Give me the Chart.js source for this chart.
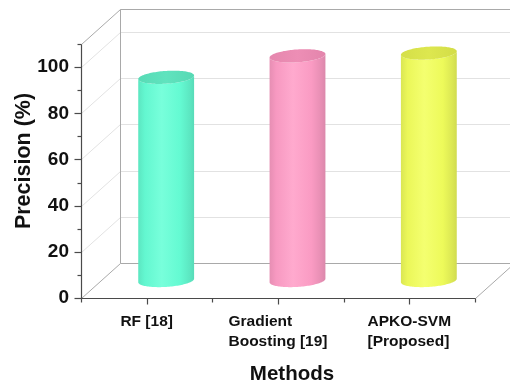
<!DOCTYPE html>
<html>
<head>
<meta charset="utf-8">
<script src="https://cdn.jsdelivr.net/npm/chart.js@4/dist/chart.umd.min.js"></script>
<style>
  html, body { margin: 0; padding: 0; background: #ffffff; }
  canvas { display: block; }
</style>
</head>
<body>
<canvas id="chart" width="510" height="385"></canvas>
<script>
// Methods compared (multi-line category labels)
const methods = [['RF [18]'], ['Gradient', 'Boosting [19]'], ['APKO-SVM', '[Proposed]']];
// Precision (%) per method
const precision = [88, 97.3, 98.5];
// Labelled ticks on the value axis
const yTickLabels = [0, 20, 40, 60, 80, 100];
const yMax = 110;

// Cylinder colours: side, cap
const sideColors = ['#66FFD6', '#FF9EC7', '#F2FF5C'];
const capColors = ['#5BE2BC', '#EC8BB3', '#DCE64A'];

// Oblique depth of the 3D box (pixels) and cylinder depth radius as a fraction of it
const DEPTH = { x: 39, y: -35 };
const CYL_DEPTH = 0.19;
const FONT = "'Liberation Sans', Arial, sans-serif";

function shade(hex, f) {
  const n = parseInt(hex.slice(1), 16);
  const c = [(n >> 16) & 255, (n >> 8) & 255, n & 255].map(v => {
    const o = f < 1 ? v * f : v + (255 - v) * (f - 1);
    return Math.max(0, Math.min(255, Math.round(o)));
  });
  return `rgb(${c[0]},${c[1]},${c[2]})`;
}

function seg(ctx, x1, y1, x2, y2) {
  ctx.beginPath();
  ctx.moveTo(x1, y1);
  ctx.lineTo(x2, y2);
  ctx.stroke();
}

// Back wall, side wall and floor of the 3D box, drawn behind the cylinders
const boxFrame = {
  id: 'boxFrame',
  beforeDatasetsDraw(chart) {
    const { ctx, scales: { x, y } } = chart;
    const L = Math.round(x.left) + 0.5, R = Math.round(x.right) + 0.5;
    const B = Math.round(y.getPixelForValue(0)) + 0.5;
    const T = Math.round(y.getPixelForValue(yMax)) + 0.5;
    const dx = DEPTH.x, dy = DEPTH.y;
    ctx.save();
    ctx.lineWidth = 1;
    ctx.strokeStyle = '#e2e2e2';
    yTickLabels.forEach(v => {
      if (v === 0) return;
      const py = Math.round(y.getPixelForValue(v)) + 0.5;
      seg(ctx, L, py, L + dx, py + dy);
      seg(ctx, L + dx, py + dy, R + dx + 5, py + dy);
    });
    ctx.strokeStyle = '#a9a9a9';
    seg(ctx, L, T, L + dx, T + dy);
    seg(ctx, L + dx, T + dy, R + dx + 5, T + dy);
    seg(ctx, L + dx, T + dy, L + dx, B + dy);
    seg(ctx, L, B, L + dx, B + dy);
    seg(ctx, L + dx, B + dy, R + dx + 5, B + dy);
    seg(ctx, R, B, R + dx, B + dy);
    ctx.restore();
  },
  afterDatasetsDraw(chart) {
    const { ctx } = chart;
    const meta = chart.getDatasetMeta(0);
    const dx = DEPTH.x, dy = DEPTH.y;
    const a = CYL_DEPTH * dx, b = CYL_DEPTH * dy;
    meta.data.forEach((bar, i) => {
      const cx = bar.x + dx / 2;
      const topY = bar.y + dy / 2;
      const botY = bar.base + dy / 2;
      const r = bar.width / 2;
      const P = (t, cy) => [cx + r * Math.cos(t) + a * Math.sin(t), cy + b * Math.sin(t)];
      const tR = Math.atan2(a, r);
      const tL = tR + Math.PI;
      const steps = 60;
      const rr = Math.sqrt(r * r + a * a);

      // side of the cylinder
      ctx.save();
      ctx.beginPath();
      let p = P(tL, topY);
      ctx.moveTo(p[0], p[1]);
      for (let k = 0; k <= steps; k++) {
        const t = tL + Math.PI * k / steps;
        p = P(t, botY);
        ctx.lineTo(p[0], p[1]);
      }
      for (let k = steps; k >= 0; k--) {
        const t = tL + Math.PI * k / steps;
        p = P(t, topY);
        ctx.lineTo(p[0], p[1]);
      }
      ctx.closePath();
      const g = ctx.createLinearGradient(cx - rr, 0, cx + rr, 0);
      const base = sideColors[i];
      g.addColorStop(0, shade(base, 0.9));
      g.addColorStop(0.12, shade(base, 0.97));
      g.addColorStop(0.42, shade(base, 1.12));
      g.addColorStop(0.75, shade(base, 0.98));
      g.addColorStop(0.93, shade(base, 0.9));
      g.addColorStop(1, shade(base, 0.86));
      ctx.fillStyle = g;
      ctx.fill();

      // top cap
      ctx.beginPath();
      for (let k = 0; k <= 2 * steps; k++) {
        const t = (2 * Math.PI) * k / (2 * steps);
        p = P(t, topY);
        if (k === 0) ctx.moveTo(p[0], p[1]); else ctx.lineTo(p[0], p[1]);
      }
      ctx.closePath();
      const gc = ctx.createLinearGradient(cx - rr, 0, cx + rr, 0);
      gc.addColorStop(0, shade(capColors[i], 0.97));
      gc.addColorStop(0.5, shade(capColors[i], 1.03));
      gc.addColorStop(1, shade(capColors[i], 0.96));
      ctx.fillStyle = gc;
      ctx.fill();
      ctx.restore();
    });
  },
  afterDraw(chart) {
    const { ctx, scales: { x, y } } = chart;
    const L = Math.round(x.left) + 0.5, R = Math.round(x.right) + 0.5;
    const B = Math.round(y.getPixelForValue(0)) + 0.5;
    const T = Math.round(y.getPixelForValue(yMax)) + 0.5;
    ctx.save();
    ctx.strokeStyle = '#4a4a4a';
    ctx.lineWidth = 1.2;
    // front value axis with major/minor ticks
    seg(ctx, L, B, L, T);
    for (let v = 0; v <= yMax; v += 10) {
      const py = Math.round(y.getPixelForValue(v)) + 0.5;
      const len = v % 20 === 0 ? 7 : 4;
      seg(ctx, L - len, py, L, py);
    }
    // front category axis with ticks at centres and boundaries
    seg(ctx, L, B, R, B);
    methods.forEach((m, i) => {
      const px = Math.round(x.getPixelForValue(i)) + 0.5;
      seg(ctx, px, B, px, B + 6);
    });
    for (let i = 0; i <= methods.length; i++) {
      const px = Math.round(x.getPixelForValue(i - 0.5)) + 0.5;
      seg(ctx, px, B, px, B + 4);
    }

    // category labels, lines left-aligned inside a centred block
    ctx.fillStyle = '#111111';
    ctx.font = `bold 15.5px ${FONT}`;
    ctx.textAlign = 'left';
    ctx.textBaseline = 'alphabetic';
    methods.forEach((lines, i) => {
      const px = x.getPixelForValue(i);
      const w = Math.max(...lines.map(s => ctx.measureText(s).width));
      lines.forEach((s, k) => ctx.fillText(s, px - w / 2, B + 27.5 + k * 20));
    });

    // axis titles
    ctx.font = `bold 20.5px ${FONT}`;
    ctx.textAlign = 'center';
    ctx.fillText('Methods', 292, 380);
    ctx.translate(30, 161);
    ctx.rotate(-Math.PI / 2);
    ctx.font = `bold 21.5px ${FONT}`;
    ctx.fillText('Precision (%)', 0, 0);
    ctx.restore();
  }
};

new Chart(document.getElementById('chart'), {
  type: 'bar',
  data: {
    labels: methods,
    datasets: [{
      label: 'Precision (%)',
      data: precision,
      backgroundColor: 'rgba(0,0,0,0)',
      borderWidth: 0,
      barPercentage: 0.41,
      categoryPercentage: 1
    }]
  },
  options: {
    responsive: false,
    animation: false,
    layout: { padding: { top: 44, right: 35, left: 0, bottom: 0 } },
    plugins: { legend: { display: false }, tooltip: { enabled: false } },
    scales: {
      x: {
        offset: true,
        grid: { display: false, drawTicks: false },
        border: { display: false },
        ticks: { display: false },
        afterFit: s => { s.height = 87; }
      },
      y: {
        min: 0,
        max: yMax,
        grid: { display: false, drawTicks: false },
        border: { display: false },
        ticks: {
          stepSize: 10,
          autoSkip: false,
          padding: 12,
          color: '#111111',
          font: { family: FONT, weight: 'bold', size: 19 },
          callback: v => (yTickLabels.includes(v) ? String(v) : '')
        },
        afterFit: s => { s.width = 81; }
      }
    }
  },
  plugins: [boxFrame]
});
</script>
</body>
</html>
